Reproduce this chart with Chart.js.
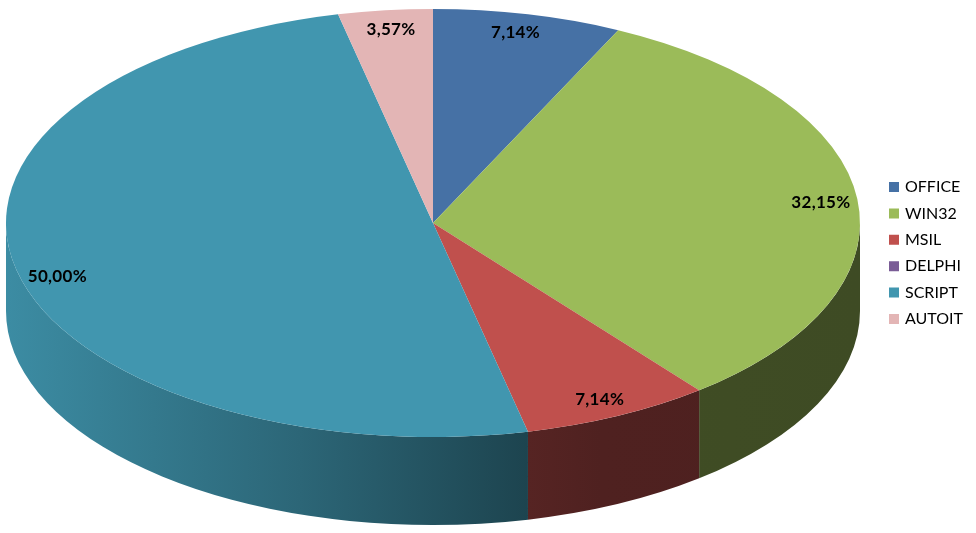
<!DOCTYPE html>
<html><head><meta charset="utf-8">
<style>html,body{margin:0;padding:0;background:#fff}canvas{display:block}</style>
<script src="https://cdn.jsdelivr.net/npm/chart.js@4"></script>
</head><body>
<canvas id="c" width="976" height="533"></canvas>
<script>
const categories = ['OFFICE','WIN32','MSIL','DELPHI','SCRIPT','AUTOIT'];
const shares = [7.14,32.15,7.14,0,50.00,3.57];
const colors = ['#4671A5','#9BBB59','#C0504D','#7A5C96','#4196AF','#E3B5B5'];
const legendFont = {family:'Lato', size:16};
const labelFont = 'bold 17px Lato';

// Projection of the flat pie onto the tilted disc
const CX = 433, CY = 223, RX = 427, RY = 214, DEPTH = 88;
const LABEL_R = 0.9;
const labelNudge = [[-3,-3],[6,1],[0,3],[0,0],[-1,11],[1,-2]];
// light falling on the rim, left to right (x in px, brightness factor)
const rimLight = [[6,.93],[300,.68],[528,.45],[600,.41],[860,.40]];

function hex(c){return [1,3,5].map(i=>parseInt(c.substr(i,2),16));}

const pie3d = {
  id:'pie3d',
  afterLayout(chart){
    const l = chart.legend;
    l.left = 880.6; l.right = 976;
    const mid = 253, h = l.bottom - l.top;
    l.top = mid - h/2; l.bottom = mid + h/2;
  },
  beforeDatasetsDraw(chart){
    const ctx = chart.ctx, arcs = chart.getDatasetMeta(0).data;
    ctx.save();
    arcs.forEach((arc,i)=>{
      const a = Math.max(arc.startAngle,0), b = Math.min(arc.endAngle,Math.PI);
      if (b <= a) return;
      const g = ctx.createLinearGradient(rimLight[0][0],0,rimLight[rimLight.length-1][0],0);
      const rgb = hex(colors[i]), span = rimLight[rimLight.length-1][0]-rimLight[0][0];
      rimLight.forEach(([x,f])=>g.addColorStop((x-rimLight[0][0])/span,
        `rgb(${rgb.map(v=>Math.round(v*f)).join(',')})`));
      ctx.beginPath();
      ctx.ellipse(CX,CY,RX,RY,0,a,b);
      ctx.ellipse(CX,CY+DEPTH,RX,RY,0,b,a,true);
      ctx.closePath();
      ctx.fillStyle = g;
      ctx.fill();
    });
    ctx.restore();
    const a0 = arcs[0], sx = RX/a0.outerRadius, sy = RY/a0.outerRadius;
    ctx.save();
    ctx.translate(CX,CY); ctx.scale(sx,sy); ctx.translate(-a0.x,-a0.y);
  },
  afterDatasetsDraw(chart){
    const ctx = chart.ctx, arcs = chart.getDatasetMeta(0).data;
    ctx.restore();
    ctx.save();
    ctx.font = labelFont;
    ctx.letterSpacing = '0.3px';
    ctx.fillStyle = '#000';
    ctx.textAlign = 'center';
    ctx.textBaseline = 'middle';
    arcs.forEach((arc,i)=>{
      if (!shares[i]) return;
      const m = (arc.startAngle+arc.endAngle)/2;
      ctx.fillText(shares[i].toFixed(2).replace('.',',')+'%',
        CX+LABEL_R*RX*Math.cos(m)+labelNudge[i][0],
        CY+LABEL_R*RY*Math.sin(m)+labelNudge[i][1]);
    });
    ctx.restore();
  }
};

new Chart(document.getElementById('c'),{
  type:'pie',
  plugins:[pie3d],
  data:{labels:categories,datasets:[{data:shares,backgroundColor:colors,borderWidth:0,clip:false}]},
  options:{
    responsive:false,animation:false,
    layout:{padding:0},
    plugins:{
      tooltip:{enabled:false},
      legend:{position:'right',labels:{boxWidth:6,boxHeight:6,padding:10.4,font:legendFont,color:'#000',
        generateLabels(chart){
          return Chart.overrides.pie.plugins.legend.labels.generateLabels(chart).map((it,i)=>
            Object.assign(it,{fillStyle:colors[i],strokeStyle:colors[i],lineWidth:4,hidden:false}));
        }}}
    }
  }
});
</script>
</body></html>
